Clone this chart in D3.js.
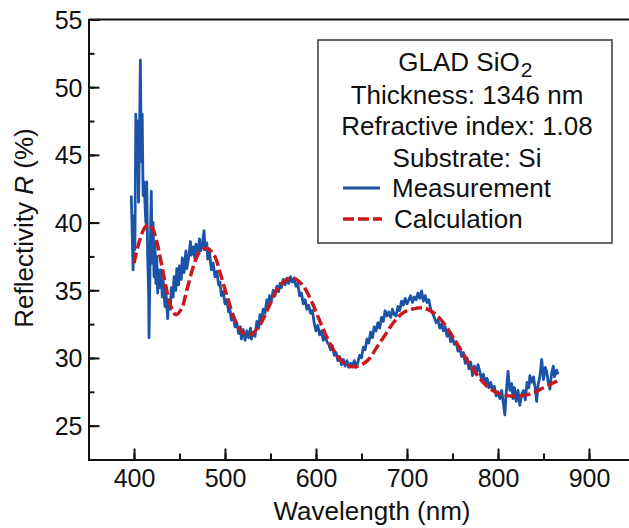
<!DOCTYPE html>
<html>
<head>
<meta charset="utf-8">
<script src="https://cdn.jsdelivr.net/npm/d3@7"></script>
<style>
  body { margin: 0; background: #fff; }
  svg text { font-family: "Liberation Sans", Arial, sans-serif; fill: #111; }
</style>
</head>
<body>
<svg id="chart" width="629" height="528"></svg>
<script>
// Reflectivity spectrum of a GLAD SiO2 film, measured vs. calculated.

var xTicks = [400, 500, 600, 700, 800, 900];
var yTicks = [25, 30, 35, 40, 45, 50, 55];
var legendInfo = ["Thickness: 1346 nm", "Refractive index: 1.08", "Substrate: Si"];
var seriesNames = ["Measurement", "Calculation"];

// Measured reflectivity [wavelength nm, R %]
var measurement = [
  [397, 42.0], [398, 39.3], [399, 36.5], [400, 40.5], [401, 38.0], [402, 48.0], [403, 44.0],
  [404, 47.5], [405, 41.5], [406, 46.0], [407, 52.0], [408, 44.5], [409, 48.0], [410, 42.0],
  [411, 43.0], [412, 41.5], [413, 40.0], [414, 43.0], [415, 37.5], [416, 35.0], [416.5, 31.5],
  [418, 38.5], [419, 42.3], [420, 37.0], [421, 40.0], [422, 36.0], [423, 38.5], [424, 35.5],
  [425, 37.5], [426, 34.8], [427, 36.5], [428, 35.2], [430, 36.5], [431, 34.5], [432, 35.8],
  [434, 33.8], [435, 35.0], [437, 32.9], [438, 34.3], [440, 33.6], [441, 35.2], [443, 34.5],
  [444, 36.0], [446, 35.0], [447, 36.6], [449, 35.4], [450, 36.8], [452, 35.8], [453, 37.4],
  [455, 36.3], [457, 37.9], [458, 36.6], [460, 37.4], [462, 38.6], [463, 37.6], [465, 38.2],
  [467, 37.3], [468, 38.4], [470, 37.6], [472, 38.8], [473, 37.9], [475, 38.3], [477, 39.4],
  [478, 38.0], [480, 38.5], [481, 37.3], [483, 37.8], [485, 36.5], [487, 37.0], [489, 36.0],
  [491, 36.4], [493, 35.4], [494.5, 35.6], [496, 34.6], [498, 34.9], [500, 34.0], [502, 34.3],
  [504, 33.4], [505, 33.8], [507, 32.8], [509, 33.1], [511, 32.3], [513, 32.6], [515, 31.8],
  [517, 32.3], [518, 31.4], [520, 32.1], [522, 31.3], [524, 32.0], [526, 31.5], [528, 32.2],
  [529, 31.4], [531, 31.9], [533, 31.6], [535, 32.7], [537, 32.2], [538.5, 33.2], [540, 32.7],
  [542, 33.6], [544, 33.3], [546, 34.3], [548, 33.8], [549, 34.6], [551, 34.2], [553, 35.0],
  [555, 34.6], [557, 35.3], [559, 34.9], [560.5, 35.5], [562, 35.2], [564, 35.8], [566, 35.4],
  [568, 35.9], [570, 35.5], [572, 36.0], [574, 35.6], [576, 35.9], [578, 35.3], [580, 35.5],
  [582, 34.6], [584, 34.8], [586, 34.0], [588, 34.3], [590, 33.6], [592, 33.9], [594, 33.3],
  [596, 33.5], [598, 32.6], [600, 32.0], [602, 32.4], [604, 31.7], [606, 32.0], [608, 31.3],
  [610, 31.7], [612, 31.2], [614, 31.0], [616, 30.6], [618, 30.9], [620, 30.2], [622, 30.4],
  [624, 29.8], [626, 30.1], [628, 29.5], [630, 29.9], [632, 29.4], [634, 29.8], [636, 29.3],
  [638, 29.6], [640, 29.4], [642, 29.8], [644, 29.3], [646, 29.7], [648, 30.2], [650, 30.0],
  [652, 30.8], [654, 30.6], [656, 31.4], [658, 31.1], [660, 31.9], [662, 31.5], [664, 32.3],
  [666, 32.0], [668, 32.6], [670, 32.2], [672, 33.0], [674, 32.7], [676, 33.5], [678, 33.1],
  [680, 33.4], [682, 33.0], [684, 33.6], [686, 33.2], [688, 33.1], [690, 33.8], [692, 33.5],
  [694, 34.2], [696, 33.9], [698, 34.4], [700, 34.0], [702, 34.3], [704, 34.6], [706, 34.1],
  [708, 34.5], [710, 34.3], [712, 34.8], [714, 34.4], [716, 34.95], [718, 34.2], [720, 34.6],
  [722, 34.1], [724, 34.3], [726, 33.6], [728, 33.3], [730, 33.0], [732, 32.6], [734, 32.8],
  [736, 32.2], [738, 32.5], [740, 32.0], [742, 32.3], [744, 31.6], [746, 31.9], [748, 31.2],
  [750, 31.5], [752, 31.0], [754, 31.2], [756, 30.5], [758, 30.8], [760, 30.1], [762, 30.4],
  [764, 29.6], [766, 30.0], [768, 29.2], [770, 29.7], [772, 28.7], [774, 29.4], [776, 28.8],
  [778, 29.5], [780, 29.0], [782, 28.4], [784, 28.8], [786, 28.1], [788, 28.5], [790, 27.8],
  [792, 28.2], [794, 27.6], [796, 27.9], [798, 27.2], [800, 27.5], [802, 27.0], [804, 27.6],
  [806, 26.6], [807.5, 25.8], [809, 27.4], [811, 29.0], [813, 27.6], [815, 28.1], [816.5, 27.0],
  [818, 27.8], [820, 26.8], [822, 27.6], [824, 26.5], [826, 27.3], [828, 27.6], [830, 26.9],
  [832, 28.2], [834, 27.8], [835, 28.7], [837, 28.2], [839, 28.6], [841, 27.7], [842.5, 26.8],
  [844, 28.0], [846, 28.6], [848, 29.9], [850, 28.4], [852, 29.3], [853.5, 29.0], [855, 28.3],
  [857, 27.7], [859, 28.9], [860.8, 29.4], [862, 28.6], [864.5, 29.1], [866, 28.8]
];

// Calculated reflectivity [wavelength nm, R %]
var calculation = [
  [400, 37.0], [405, 38.4], [410, 39.4], [415, 39.85], [420, 39.6], [425, 38.6], [430, 37.0],
  [435, 35.3], [440, 33.9], [446, 33.2], [452, 33.6], [458, 35.0], [465, 36.7], [472, 37.8],
  [480, 38.1], [488, 37.6], [495, 36.2], [503, 34.4], [511, 32.8], [519, 31.9], [527, 31.7],
  [537, 32.3], [547, 33.6], [557, 35.0], [566, 35.7], [575, 35.9], [585, 35.4], [595, 34.2],
  [605, 32.6], [615, 31.1], [625, 30.0], [633, 29.5], [641, 29.35], [650, 29.5], [658, 29.9],
  [666, 30.7], [675, 31.6], [685, 32.6], [695, 33.3], [705, 33.6], [718, 33.7], [730, 33.3],
  [740, 32.6], [750, 31.6], [760, 30.5], [770, 29.4], [780, 28.5], [790, 27.8], [800, 27.4],
  [812, 27.2], [826, 27.2], [838, 27.4], [850, 27.8], [865, 28.3]
];

var svg = d3.select("#chart");
var x = d3.scaleLinear().domain([350, 950]).range([88.5, 634.5]);
var y = d3.scaleLinear().domain([22.5, 55]).range([459.5, 19.5]);

var blue = "#1b54a6";
var red = "#c8191e";

// Lines
var line = d3.line().x(d => x(d[0])).y(d => y(d[1]));
svg.append("path").datum(measurement)
    .attr("d", line)
    .attr("fill", "none").attr("stroke", blue)
    .attr("stroke-width", 2.8).attr("stroke-linejoin", "round");
svg.append("path").datum(calculation)
    .attr("d", d3.line().x(d => x(d[0])).y(d => y(d[1])).curve(d3.curveCatmullRom))
    .attr("fill", "none").attr("stroke", red)
    .attr("stroke-width", 3.5).attr("stroke-dasharray", "11,4");

// Frame
svg.append("line").attr("x1", 88.5).attr("x2", 640).attr("y1", 19.5).attr("y2", 19.5)
    .attr("stroke", "#111").attr("stroke-width", 2);

// Axes (ticks pointing inward)
var xMinor = d3.range(350, 951, 50);
var yMinor = d3.range(22.5, 55.1, 2.5);
var xAxisMinor = d3.axisBottom(x).tickValues(xMinor).tickSize(-6).tickFormat("");
var xAxis = d3.axisBottom(x).tickValues(xTicks).tickSize(-11).tickPadding(0);
var yAxisMinor = d3.axisLeft(y).tickValues(yMinor).tickSize(-6).tickFormat("");
var yAxis = d3.axisLeft(y).tickValues(yTicks).tickSize(-11);

var gx = svg.append("g").attr("transform", "translate(0,459.5)");
gx.call(xAxisMinor);
gx.append("g").call(xAxis);
var gy = svg.append("g").attr("transform", "translate(88.5,0)");
gy.call(yAxisMinor);
gy.append("g").call(yAxis);

svg.selectAll(".domain").attr("stroke", "#111").attr("stroke-width", 2);
svg.selectAll(".tick line").attr("stroke", "#111").attr("stroke-width", 2);
gx.selectAll(".tick text").attr("font-size", 25).attr("font-family", "Liberation Sans")
    .attr("y", 27).attr("dy", 0).attr("fill", "#111");
gy.selectAll(".tick text").attr("font-size", 25).attr("font-family", "Liberation Sans")
    .attr("x", -6).attr("dy", "0.36em").attr("fill", "#111");

// Axis titles
svg.append("text").attr("x", 372).attr("y", 520).attr("text-anchor", "middle")
    .attr("font-size", 26).text("Wavelength (nm)");
var yt = svg.append("text").attr("transform", "translate(33,228) rotate(-90)")
    .attr("text-anchor", "middle").attr("font-size", 26);
yt.append("tspan").text("Reflectivity ");
yt.append("tspan").attr("font-style", "italic").text("R");
yt.append("tspan").text(" (%)");

// Legend
var lg = svg.append("g");
lg.append("rect").attr("x", 318).attr("y", 40).attr("width", 294).attr("height", 203)
    .attr("fill", "#fff").attr("stroke", "#444").attr("stroke-width", 1.6);
var cx = 467;
// Title with subscript placed as its own text right after the main part.
var title = lg.append("text").attr("x", cx - 8).attr("y", 71).attr("text-anchor", "middle")
    .attr("font-size", 26).text("GLAD SiO");
var titleEnd = cx - 8 + title.node().getComputedTextLength() / 2;
lg.append("text").attr("x", titleEnd + 1).attr("y", 77).attr("font-size", 21).text("2");
legendInfo.forEach(function (s, i) {
    lg.append("text").attr("x", cx).attr("y", 103.5 + i * 31.5).attr("text-anchor", "middle")
        .attr("font-size", 26).text(s);
});
lg.append("line").attr("x1", 343).attr("x2", 380).attr("y1", 188).attr("y2", 188)
    .attr("stroke", blue).attr("stroke-width", 2.8);
lg.append("text").attr("x", 392).attr("y", 197).attr("font-size", 26).text(seriesNames[0]);
lg.append("line").attr("x1", 343).attr("x2", 382).attr("y1", 219).attr("y2", 219)
    .attr("stroke", red).attr("stroke-width", 3.5).attr("stroke-dasharray", "11,4");
lg.append("text").attr("x", 394).attr("y", 228).attr("font-size", 26).text(seriesNames[1]);
</script>
</body>
</html>
